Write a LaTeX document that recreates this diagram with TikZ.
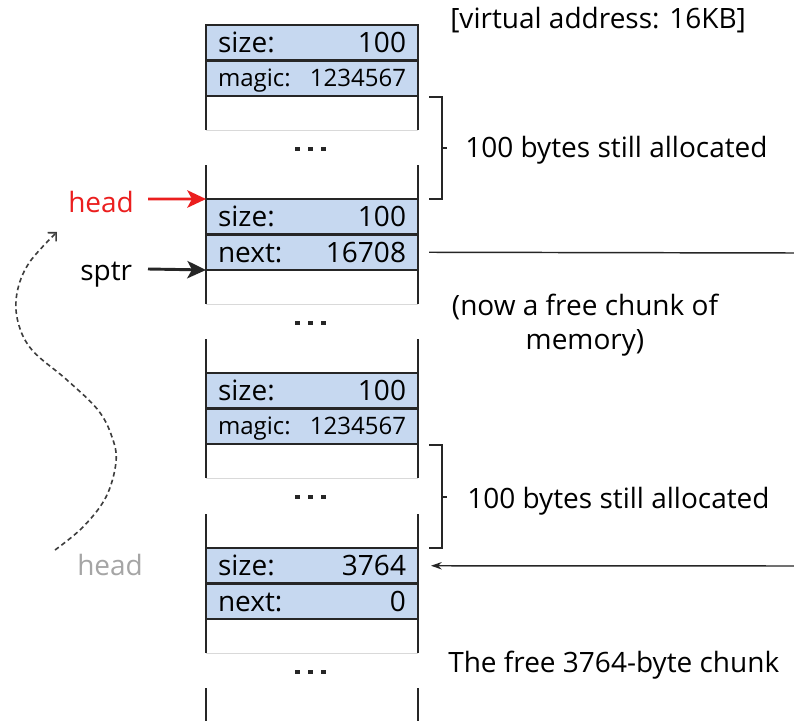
\documentclass[tikz,border=0pt]{standalone}
\usepackage{fontspec}
\setmainfont{Open Sans}
\usetikzlibrary{arrows.meta}
\definecolor{fieldblue}{RGB}{198,216,240}
\definecolor{edge}{RGB}{38,38,38}
\definecolor{headred}{RGB}{235,30,30}
\definecolor{ghost}{RGB}{165,165,165}
\definecolor{curvegray}{RGB}{60,60,60}

\begin{document}
\begin{tikzpicture}[x=0.75pt,y=-0.75pt,
  field/.style={draw=edge, line width=1.5pt, fill=fieldblue,
    minimum height=26.6pt, text width=141pt, inner xsep=9pt, inner ysep=0pt,
    outer sep=0pt, text height=15pt, text depth=0pt,
    font=\fontsize{21}{25}\selectfont},
  magicfield/.style={field, text height=13pt, font=\fontsize{18}{21}\selectfont},
  side/.style={draw=edge, line width=1.5pt},
  cut/.style={draw=gray!30, line width=0.6pt},
  bracket/.style={draw=edge, line width=1.5pt},
  label/.style={font=\fontsize{21}{25}\selectfont, inner sep=0pt, anchor=base west},
  pointer/.style={draw=edge, line width=1.1pt},
  bigtip/.style={-{Stealth[length=14pt, width=13pt, inset=3.5pt]}, line width=2.2pt},
  dashcurve/.style={draw=curvegray, line width=1.2pt, dash pattern=on 3.5pt off 2.5pt,
    -{Straight Barb[length=4.5pt, width=9pt]}}
]
\path[fill=white, use as bounding box] (0,0) rectangle (794,721);

% memory column: header fields of each chunk
\node[field] (s1) at (312,42.75) {size:\hfill 100};
\node[magicfield] (m1) at (312,78.25) {magic:\hfill 1234567};
\node[field] (s2) at (312,216.75) {size:\hfill 100};
\node[field] (n2) at (312,252.25) {next:\hfill 16708};
\node[field] (s3) at (312,390.75) {size:\hfill 100};
\node[magicfield] (m3) at (312,426.25) {magic:\hfill 1234567};
\node[field] (s4) at (312,565.75) {size:\hfill 3764};
\node[field] (n4) at (312,601.25) {next:\hfill 0};

% side walls below each header, broken by an elided gap
\foreach \h in {m1,n2,m3,n4}{
  \draw[side] (\h.south west) -- ++(0,34);
  \draw[side] (\h.south east) -- ++(0,34);
  \draw[cut] (\h.south west) ++(0,34) -- ++(212,0);
}
\foreach \h in {s2,s3,s4}{
  \draw[side] (\h.north west) -- ++(0,-34);
  \draw[side] (\h.north east) -- ++(0,-34);
}
\draw[side] (206,688) -- (206,725);
\draw[side] (418,688) -- (418,725);

% elision marks
\foreach \y in {149,323,497,672}
  \foreach \x in {297.5,310.5,323.5}
    \fill[edge] (\x-2.5,\y-2.2) rectangle (\x+2.5,\y+2.2);

% brackets over the allocated regions
\draw[bracket] (429,97) -- (442,97) -- (442,199) -- (429,199);
\draw[bracket] (442,148) -- (447,148);
\draw[bracket] (429,445) -- (442,445) -- (442,548) -- (429,548);
\draw[bracket] (442,497) -- (447,497);

% labels
\node[label] (vaddr) at (450,28) {[virtual address: 16KB]};
\node[label] (alloc1) at (465,157) {100 bytes still allocated};
\node[label] (alloc2) at (467,508) {100 bytes still allocated};
\node[label] (lastfree) at (448,672) {The free 3764-byte chunk};
\node[font=\fontsize{21}{25.5}\selectfont, align=center, inner sep=0pt, anchor=base]
  (freenote) at (585,349) {(now a free chunk of\\memory)};
\node[label, text=headred] (headlbl) at (68,212) {head};
\node[label] (sptrlbl) at (80,280) {sptr};
\node[label, text=ghost] (oldhead) at (77,575) {head};

% pointers
\coordinate (headtail) at (148,199);
\coordinate (sptrtail) at (148,269);
\coordinate (nextoff) at (794,253);
\coordinate (backin) at (794,566);
\draw[headred, bigtip] (headtail) -- (s2.north west);
\draw[edge, bigtip] (sptrtail) -- (n2.south west);
\draw[pointer] (n2.east) ++(11,0) -- (nextoff);
\draw[pointer, -{Stealth[length=8pt, width=5.5pt]}] (backin) -- ([shift={(13,0)}]s4.east);

% old head moving to the new head
\coordinate (oldheadtail) at (55,550);
\coordinate (newheadtip) at (57,232);
\draw[dashcurve] plot[smooth, tension=0.6] coordinates {
  (oldheadtail) (83,527) (106,497) (116,462) (112,437) (98,410) (67,380)
  (32,350) (18,322) (17,293) (29,263) (newheadtip)};
\end{tikzpicture}
\end{document}
